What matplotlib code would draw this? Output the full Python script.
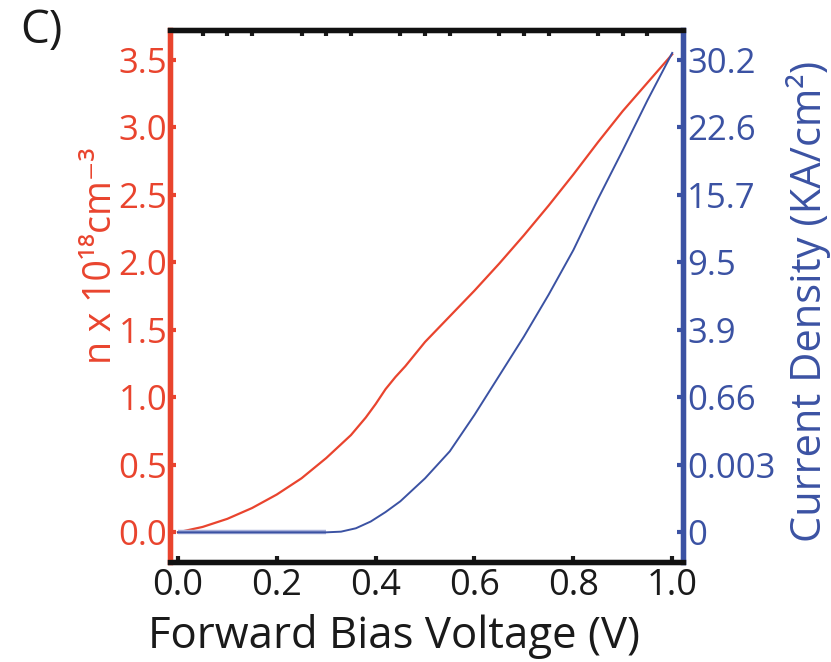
import matplotlib
matplotlib.use("Agg")
from matplotlib import pyplot as plt
from matplotlib.ticker import MultipleLocator

# data (n in 1e18 cm^-3, current on the same scale as n)
v_n = [0.0, 0.05, 0.10, 0.15, 0.20, 0.25, 0.30, 0.35, 0.38, 0.40, 0.42, 0.44,
       0.46, 0.50, 0.55, 0.60, 0.65, 0.70, 0.75, 0.80, 0.85, 0.90, 0.95, 1.00]
n_conc = [0.0, 0.04, 0.10, 0.18, 0.28, 0.40, 0.55, 0.72, 0.85, 0.95, 1.06, 1.15,
          1.23, 1.41, 1.60, 1.79, 1.99, 2.20, 2.42, 2.65, 2.89, 3.12, 3.33, 3.54]

v_j = [0.0, 0.10, 0.20, 0.30, 0.33, 0.36, 0.39, 0.42, 0.45, 0.50, 0.55, 0.60,
       0.65, 0.70, 0.75, 0.80, 0.85, 0.90, 0.95, 1.00]
j_scaled = [0.0, 0.0, 0.0, 0.0, 0.005, 0.03, 0.08, 0.15, 0.23, 0.40, 0.60, 0.87,
            1.16, 1.45, 1.76, 2.09, 2.47, 2.83, 3.20, 3.55]

left_ticks = [0.0, 0.5, 1.0, 1.5, 2.0, 2.5, 3.0, 3.5]
right_labels = ["0", "0.003", "0.66", "3.9", "9.5", "15.7", "22.6", "30.2"]
x_ticks = [0.0, 0.2, 0.4, 0.6, 0.8, 1.0]

RED = "#e9442e"
BLUE = "#3b52a3"
DARK = "#1a1a1a"

plt.rcParams["font.family"] = ["Open Sans", "DejaVu Sans"]

fig = plt.figure(figsize=(8.31, 6.62), dpi=100)
ax = fig.add_axes([0.2046, 0.151, 0.6174, 0.8037])
ax2 = ax.twinx()

# flat part of the current curve looks like a lighter, wider band
n_flat = sum(1 for j in j_scaled if j == 0.0)
ax2.plot(v_j[:n_flat], j_scaled[:n_flat], color="#a9b1da", lw=3.2, zorder=2,
         solid_capstyle="butt")
ax.plot(v_n, n_conc, color=RED, lw=1.6, zorder=3)
ax2.plot(v_j, j_scaled, color=BLUE, lw=1.4, zorder=3)

ax.set_xlim(-0.016, 1.022)
ax.set_ylim(-0.22, 3.72)
ax2.set_ylim(-0.22, 3.72)

ax.set_xticks(x_ticks)
ax.set_xticklabels([f"{t:.1f}" for t in x_ticks])
ax.xaxis.set_minor_locator(MultipleLocator(0.05))
ax.set_yticks(left_ticks)
ax.set_yticklabels([f"{t:.1f}" for t in left_ticks])
ax2.set_yticks(left_ticks)
ax2.set_yticklabels(right_labels)

ax.tick_params(axis="x", which="major", direction="in", length=4, width=3,
               top=False, bottom=True, labelsize=26, pad=4, colors=DARK)
ax.tick_params(axis="x", which="minor", direction="in", length=4, width=3,
               top=True, bottom=False, color=DARK)
ax.tick_params(axis="y", direction="in", length=4, width=3, colors=RED,
               labelsize=25, pad=2)
ax2.tick_params(axis="y", direction="in", length=4, width=3, colors=BLUE,
                labelsize=25, pad=3)

for a in (ax, ax2):
    for side, col in (("top", "#111111"), ("bottom", "#111111"),
                      ("left", RED), ("right", BLUE)):
        a.spines[side].set_color(col)
        a.spines[side].set_linewidth(3.8)

ax.set_xlabel("Forward Bias Voltage (V)", fontsize=31.5, color=DARK, va="baseline")
ax.xaxis.set_label_coords(0.437, -0.162)
ax.set_ylabel("n x 10¹⁸cm⁻³", fontsize=27, color=RED, va="center")
ax.yaxis.set_label_coords(-0.135, 0.575)
ax2.set_ylabel("Current Density (KA/cm²)", fontsize=30, color=BLUE, va="center")
ax2.yaxis.set_label_coords(1.244, 0.49)

fig.text(0.024, 0.988, "C)", fontsize=33, color=DARK, ha="left", va="top")

fig.savefig("out.png", dpi=100)
